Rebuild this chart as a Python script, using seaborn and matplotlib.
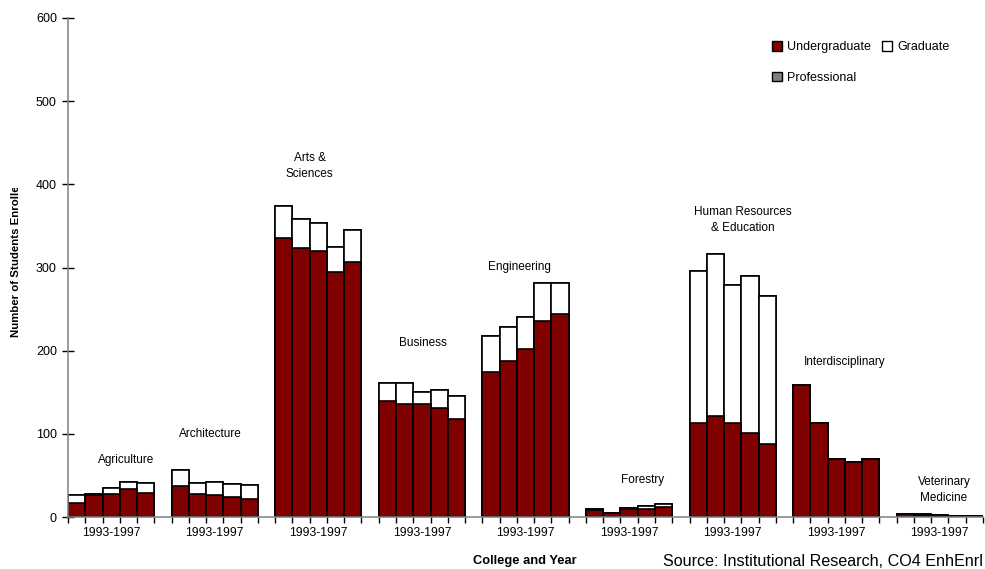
import matplotlib
matplotlib.use("Agg")
import matplotlib.pyplot as plt
from matplotlib.patches import Patch, Rectangle
import pandas as pd
import seaborn as sns

# ---- data -----------------------------------------------------------------
colleges = ["Agriculture", "Architecture", "Arts &\nSciences", "Business",
            "Engineering", "Forestry", "Human Resources\n& Education",
            "Interdisciplinary", "Veterinary\nMedicine"]
years = [1993, 1994, 1995, 1996, 1997]
year_span = "1993-1997"

undergraduate = [
    17, 27, 28, 34, 29,        # Agriculture
    37, 28, 26, 24, 22,        # Architecture
    336, 324, 320, 294, 307,   # Arts & Sciences
    139, 136, 136, 131, 118,   # Business
    174, 187, 202, 236, 244,   # Engineering
    8, 5, 10, 10, 12,          # Forestry
    113, 121, 113, 101, 88,    # Human Resources & Education
    159, 113, 70, 66, 70,      # Interdisciplinary
    4, 2, 1, 1, 1,             # Veterinary Medicine
]
graduate = [
    9, 1, 7, 8, 12,
    20, 13, 16, 16, 16,
    38, 34, 33, 31, 38,
    22, 25, 14, 22, 27,
    44, 41, 39, 45, 37,
    2, 0, 1, 3, 4,
    183, 195, 166, 189, 178,
    0, 0, 0, 0, 0,
    0, 2, 1, 0, 0,
]
professional = [
    0, 0, 0, 0, 0,
    0, 0, 0, 0, 0,
    0, 0, 0, 0, 0,
    0, 0, 0, 0, 0,
    0, 0, 0, 0, 0,
    0, 0, 0, 0, 0,
    0, 0, 0, 0, 0,
    0, 0, 0, 0, 0,
    0, 0, 0, 0, 0,
]

# label anchor points (slot units, enrolment units)
label_x = [3.36, 8.23, 14.0, 20.56, 26.12, 33.3, 39.1, 45.0, 50.74]
label_y = [68.5, 99.8, 421.9, 209.1, 300.5, 44.5, 357.6, 186.3, 31.9]

# ---- table ----------------------------------------------------------------
n_years = len(years)
slot = n_years + 1  # five bars and one empty slot per college
rows = []
i = 0
for g, college in enumerate(colleges):
    for k, year in enumerate(years):
        rows.append({"college": college, "year": year,
                     "pos": g * slot + k + 0.5,
                     "undergraduate": undergraduate[i],
                     "graduate": graduate[i],
                     "professional": professional[i]})
        i += 1
df = pd.DataFrame(rows)
df["ug_grad"] = df["undergraduate"] + df["graduate"]
df["total"] = df["ug_grad"] + df["professional"]

# ---- style ----------------------------------------------------------------
sns.set_theme(style="white")
plt.rcParams["font.family"] = ["Liberation Sans", "DejaVu Sans"]
plt.rcParams["text.color"] = "black"
plt.rcParams["xtick.color"] = "black"
plt.rcParams["ytick.color"] = "black"

UG = "#800000"
GRAD = "white"
PROF = "#808080"
AXIS_GREY = "#808080"

fig, ax = plt.subplots(figsize=(9.85, 5.69), dpi=100)
fig.subplots_adjust(left=68 / 985, right=983 / 985,
                    bottom=1 - 517 / 569, top=1 - 18 / 569)

# stacked columns drawn back-to-front
for col, color in [("total", PROF), ("ug_grad", GRAD), ("undergraduate", UG)]:
    sns.barplot(data=df, x="pos", y=col, native_scale=True, width=1.0,
                color=color, saturation=1, edgecolor="black", linewidth=1.2,
                errorbar=None, ax=ax)

ax.set_xlim(0, len(colleges) * slot - 1)
ax.set_ylim(0, 600)
ax.set_xlabel("")
ax.set_ylabel("")

# axes
for side in ("top", "right"):
    ax.spines[side].set_visible(False)
for side in ("left", "bottom"):
    ax.spines[side].set_color(AXIS_GREY)
    ax.spines[side].set_linewidth(1.1)

ax.set_yticks(range(0, 700, 100))
ax.tick_params(axis="y", which="major", left=True, direction="inout",
               length=8, width=1, pad=4, labelsize=9)

centers = [g * slot + (n_years / 2) for g in range(len(colleges))]
ax.set_xticks(centers, labels=[year_span] * len(colleges))
edges = [g * slot + k for g in range(len(colleges)) for k in range(n_years + 1)]
ax.set_xticks(edges, minor=True)
ax.tick_params(axis="x", which="major", bottom=True, length=0, pad=7,
               labelsize=8.7)
ax.tick_params(axis="x", which="minor", bottom=True, direction="out",
               length=4, width=1, color="black")

# college names above each group
for name, x, y in zip(colleges, label_x, label_y):
    ax.text(x, y, name, ha="center", va="center", fontsize=8.5,
            linespacing=1.45)

# legend
handles = [Patch(facecolor=UG, edgecolor="black", label="Undergraduate"),
           Patch(facecolor=PROF, edgecolor="black", label="Professional"),
           Patch(facecolor=GRAD, edgecolor="black", label="Graduate")]
fig.legend(handles=handles, ncol=2, loc="upper left",
           bbox_to_anchor=(772 / 985, 1 - 41 / 569), frameon=False,
           fontsize=9, handlelength=0.8, handleheight=0.8,
           handletextpad=0.4, columnspacing=0.9, labelspacing=1.5,
           borderpad=0, borderaxespad=0)

# axis titles and source note
ylab = fig.text(16 / 985, 1 - 337 / 569, "Number of Students Enrolled",
                rotation=90, ha="center", va="bottom", fontsize=8.2,
                fontweight="bold")
ylab.set_clip_path(Rectangle((0, 0), 1, 1 - 188 / 569,
                             transform=fig.transFigure))
fig.text(525 / 985, 1 - 561 / 569, "College and Year", ha="center",
         va="center", fontsize=9.3, fontweight="bold")
fig.text(983 / 985, 1 - 561 / 569,
         "Source: Institutional Research, CO4 EnhEnrl", ha="right",
         va="center", fontsize=11.6)

fig.savefig("out.png", dpi=100)
